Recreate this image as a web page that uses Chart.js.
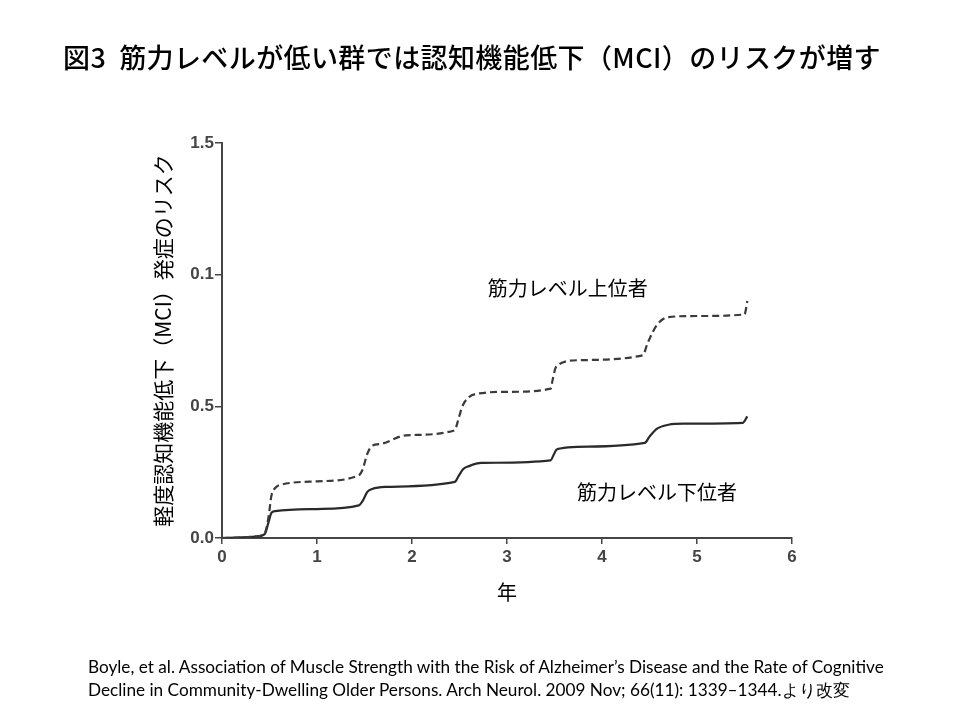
<!DOCTYPE html>
<html>
<head>
<meta charset="utf-8">
<script src="https://cdn.jsdelivr.net/npm/chart.js@4/dist/chart.umd.min.js"></script>
<style>
  html, body { margin: 0; padding: 0; background: #fff; }
  body { width: 960px; height: 720px; position: relative; overflow: hidden; }
  #title {
    position: absolute; left: 63px; top: 37px;
    font: 500 27px "Noto Sans CJK JP", sans-serif; letter-spacing: 0.4px; color: #000; white-space: nowrap;
  }
  #cite {
    position: absolute; left: 88px; top: 655px;
    font: 17.2px "Lato", sans-serif; line-height: 23px; color: #000; white-space: nowrap;
  }
  canvas { position: absolute; left: 0; top: 0; }
</style>
</head>
<body>
<canvas id="chart" width="960" height="720"></canvas>
<div id="title">図3&nbsp;&nbsp;筋力レベルが低い群では認知機能低下（MCI）のリスクが増す</div>
<div id="cite">Boyle, et al. Association of Muscle Strength with the Risk of Alzheimer’s Disease and the Rate of Cognitive<br>Decline in Community-Dwelling Older Persons. Arch Neurol. 2009 Nov; 66(11): 1339–1344.より改変</div>
<script>
// values
const upperYears = [0, 0.2, 0.35, 0.45, 0.49, 0.52, 0.56, 0.64, 1.0, 1.44, 1.48, 1.53, 1.58, 1.68, 1.94, 2.45, 2.48, 2.53, 2.6, 2.69, 3.0, 3.46, 3.48, 3.51, 3.55, 3.74, 4.43, 4.48, 4.58, 4.7, 5.0, 5.5, 5.53]
const upperRisk = [0, 0.002, 0.006, 0.02, 0.08, 0.16, 0.19, 0.204, 0.215, 0.238, 0.26, 0.32, 0.35, 0.358, 0.39, 0.409, 0.44, 0.5, 0.535, 0.548, 0.555, 0.567, 0.6, 0.645, 0.66, 0.675, 0.694, 0.74, 0.81, 0.839, 0.843, 0.849, 0.9]

const lowerYears = [0, 0.2, 0.35, 0.45, 0.49, 0.52, 0.56, 1.0, 1.44, 1.48, 1.53, 1.58, 1.72, 2.45, 2.49, 2.54, 2.6, 2.73, 3.46, 3.49, 3.52, 3.56, 3.74, 4.45, 4.5, 4.58, 4.7, 4.86, 5.48, 5.53]
const lowerRisk = [0, 0.002, 0.005, 0.015, 0.06, 0.095, 0.102, 0.11, 0.124, 0.14, 0.175, 0.186, 0.194, 0.213, 0.235, 0.262, 0.273, 0.285, 0.295, 0.315, 0.335, 0.34, 0.346, 0.361, 0.385, 0.415, 0.43, 0.434, 0.437, 0.462]

// tick labels as printed in the figure (third one really reads 0.1)
const yTickValues = [0, 0.5, 1.0, 1.5]
const yTickLabels = ['0.0', '0.5', '0.1', '1.5']
const xTickLabels = ['0', '1', '2', '3', '4', '5', '6']

const seriesNames = ['筋力レベル上位者', '筋力レベル下位者']
const labelAt = [
  { x: 3.64, y: 0.946 },
  { x: 4.58, y: 0.175 },
]

const toPoints = (xs, ys) => xs.map((x, i) => ({ x, y: ys[i] }))

// draws the two series names inside the plot
const seriesLabels = {
  id: 'seriesLabels',
  afterDatasetsDraw(chart) {
    const { ctx, scales: { x, y } } = chart
    ctx.save()
    ctx.font = '20px "Noto Sans CJK JP", sans-serif'
    ctx.fillStyle = '#000'
    ctx.textAlign = 'center'
    ctx.textBaseline = 'middle'
    seriesNames.forEach((name, i) => {
      ctx.fillText(name, x.getPixelForValue(labelAt[i].x), y.getPixelForValue(labelAt[i].y))
    })
    ctx.restore()
  },
}

const axisColor = '#454545'
const tickFont = { family: '"Liberation Sans Narrow", "Liberation Sans", sans-serif', size: 17, weight: 'bold' }

new Chart(document.getElementById('chart'), {
  type: 'line',
  data: {
    datasets: [
      {
        label: seriesNames[0],
        data: toPoints(upperYears, upperRisk),
        borderColor: '#3a3a3a',
        borderWidth: 2.2,
        borderDash: [7, 4],
        pointRadius: 0,
        cubicInterpolationMode: 'monotone',
      },
      {
        label: seriesNames[1],
        data: toPoints(lowerYears, lowerRisk),
        borderColor: '#2a2a2a',
        borderWidth: 2.2,
        pointRadius: 0,
        cubicInterpolationMode: 'monotone',
      },
    ],
  },
  options: {
    responsive: false,
    animation: false,
    layout: { padding: { left: 150, right: 168, top: 143, bottom: 112 } },
    plugins: { legend: { display: false }, tooltip: { enabled: false } },
    scales: {
      x: {
        type: 'linear',
        min: 0,
        max: 6,
        afterFit: (s) => { s.height = 70 },
        afterBuildTicks: (s) => { s.ticks = xTickLabels.map((t) => ({ value: Number(t) })) },
        ticks: {
          color: axisColor,
          font: tickFont,
          padding: 3,
          maxRotation: 0,
          callback: (v) => xTickLabels[v],
        },
        grid: { drawOnChartArea: false, drawTicks: true, tickLength: 6, color: axisColor, lineWidth: 1.5 },
        border: { display: true, color: axisColor, width: 2 },
        title: {
          display: true,
          text: '年',
          color: '#000',
          font: { family: '"Noto Sans CJK JP", sans-serif', size: 20 },
          padding: { top: 6 },
        },
      },
      y: {
        type: 'linear',
        min: 0,
        max: 1.5,
        afterFit: (s) => { s.width = 72 },
        afterBuildTicks: (s) => { s.ticks = yTickValues.map((v) => ({ value: v })) },
        ticks: {
          color: axisColor,
          font: tickFont,
          padding: 1,
          callback: (v) => yTickLabels[yTickValues.indexOf(v)],
        },
        grid: { drawOnChartArea: false, drawTicks: true, tickLength: 7, color: axisColor, lineWidth: 1.5 },
        border: { display: true, color: axisColor, width: 2 },
        title: {
          display: true,
          text: '軽度認知機能低下（MCI）発症のリスク',
          color: '#000',
          font: { family: '"Noto Sans CJK JP", sans-serif', size: 21 },
          padding: 0,
        },
      },
    },
  },
  plugins: [seriesLabels],
})
</script>
</body>
</html>
